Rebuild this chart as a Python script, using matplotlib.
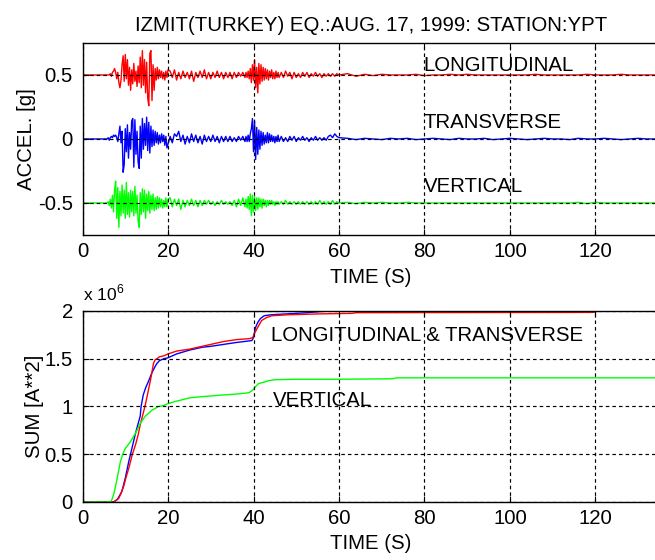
"""Izmit 1999 accelerograms (station YPT) and their running sums of squares."""

import matplotlib

matplotlib.use("Agg")
import matplotlib.pyplot as plt
import numpy as np
from matplotlib.ticker import FuncFormatter, MultipleLocator

plt.rcParams["font.family"] = ["Liberation Sans", "DejaVu Sans"]
plt.rcParams["mathtext.fontset"] = "custom"
plt.rcParams["mathtext.rm"] = "Liberation Sans"

TITLE = "IZMIT(TURKEY) EQ.:AUG. 17, 1999: STATION:YPT"
COMPONENTS = ["LONGITUDINAL", "TRANSVERSE", "VERTICAL"]
OFFSETS = [0.5, 0.0, -0.5]
COLORS = ["#ff0000", "#0000ff", "#00ff00"]

# accelerations, in 0.01 g, rows follow the sample grid below
LONG_ACC = [
    0, 0,
    0, 0, 0, 1, -1, 2, 3, 5,
    2, -3, 2, -6, -10, -4, 8, 15,
    -5, 16, -3, 12, -8, 6, -12, 4,
    -7, 9, -5, 3, -9, 7, -6, 14,
    -10, 19, -8, 12, -14, 10, -18, -24,
    17, 19, -20, 8, -12, 5, -4, 6,
    -3, 4, -2, 3, -3, 2, -4, 3,
    -2, 4,
    3, -2, 4, -4, 2, -3, 3, -2, 2,
    -3, 3, -5, 2, -2, 3, -2, 4, -3,
    2, -3, 2, -2, 3, -2, 2, -3, 2,
    -2, 2, -3, 2, -2, 2, -1, 2, -2,
    2, -2, 3, -3, 5, -6, 8, -4,
    12, -10, 6, -14, 9, -7, 8, -5,
    6, -4, 5, -3, 4, -4, 3, -2,
    4, -3, 2, -3, 3, -2, 2, -2,
    2, -2, 3, -1, 2, -3, 2,
    -2, 1, -2, 2, -1, 2, -2,
    1, -1, 2, -1, 1, -2, 1,
    -1, 1, -1, 1, -1, 1, 0,
    1, -1, 0.5, -0.5, 0.5, 0, 0, 0, 0.5, -0.5,
    0, 0, 0.5, 0, 0.5, 0, 0, 0, 0, 0,
    0, 0, 0.5, 0, 0, 0, 0, 0, 0.5, 0,
    0, 0, 0.5, 0, 0, 0, 0, 0,
]
TRANS_ACC = [
    0, 0,
    0, 1, -1, 1, 2, 1, 3, 2,
    3, 1, -2, 4, 10, -3, 6, -26,
    -20, 8, -10, 11, -15, 5, -8, 14,
    16, -22, 15, -12, 6, -18, -23, 10,
    -15, 16, -8, 12, -5, 17, -9, 13,
    -11, 10, -6, 7, -5, 6, -3, 5,
    -4, 3, -3, 4, -2, 3, -5, 2,
    -7, -4,
    2, -3, 4, 2, 6, -2, 3, -4, 2,
    -3, 4, -2, 3, -3, 2, -4, 3, -2,
    2, -2, 3, -2, 2, -3, 2, -2, 2,
    -2, 2, -2, 1, -2, 2, -1, 2, -2,
    2, -2, 3, -2, 4, 8, 16, -10,
    14, -16, 9, -12, 7, -8, 6, -5,
    5, -4, 3, -3, 5, -3, 4, -2,
    3, -2, 2, -3, 2, -2, 3, -2,
    2, -2, 1, -2, 2, -1, 2,
    -2, 1, -1, 2, -1, 1, -2,
    1, -1, 2, -1, 1, -1, 1,
    -1, 2, 3, 1, 4, 2, 1,
    0.5, -0.5, 0.5, 0, -0.5, 0.5, 0, 0.5, -0.5, 0,
    0.5, 0, -0.5, 0.5, 0, 0, 0.5, -0.5, 0, 0.5,
    0, -0.5, 0, 0.5, 0, 0, -0.5, 0.5, 0, 0,
    0.5, 0, -0.5, 0, 0.5, 0, 0, 0,
]
VERT_ACC = [
    0, 0,
    0, 1, -2, 3, -4, 6, -7, 10,
    17, -12, 12, -19, 9, -10, 14, -8,
    10, -12, 16, -9, 8, -11, 10, -7,
    9, -10, 13, -8, 6, -14, -19, 8,
    -9, 11, -7, 10, -12, 7, -6, 9,
    -8, 6, -5, 7, -6, 4, -5, 5,
    -4, 4, -3, 3, -4, 2, -3, 4,
    -3, 3,
    4, -3, 3, -2, 3, -5, 2, -3, 2,
    -2, 3, -2, 2, -3, 2, -2, 2, -1,
    2, -1, 1, -2, 1, -1, 2, -1, 1,
    -1, 1, -2, 2, -3, 3, -2, 4, -3,
    3, -4, 5, -5, 7, -10, 6, -7,
    5, -6, 4, -5, 4, -3, 3, -4,
    3, -2, 2, -3, 2, -2, 2, -1,
    2, -1, 1, -2, 1, -1, 1, -1,
    1, -1, 2, -1, 1, -1, 1,
    -1, 1, -1, 1, -1, 1, -1,
    1, -1, 1, -1, 2, -1, 1,
    -1, 1, -1, 2, -1, 1, 0,
    0.5, -0.5, 0.5, 0, 0.5, 0, 0, 0.5, 0, 0,
    0, 0, 0, 0, 0, 0, 0, 0, 0, 0,
    0, 0, 0, 0, 0, 0, 0, 0.5, -0.5, 0.5,
    0, 0, 0, 0, 0, 0, 0, 0,
]

# running sums of squared acceleration, in units of 1e6
LONG_SUM_T = [0, 7.3, 8.0, 8.5, 9.0, 9.6, 10.2, 10.8, 11.6, 12.4, 13.0, 13.5, 14.2,
              14.7, 15.5, 16.0, 16.6, 17.0, 17.4, 18.0, 19.0, 20.0, 22, 25, 28, 30,
              33, 36, 39, 39.8, 40.3, 41.0, 41.9, 43.0, 44.3, 48, 56, 63, 64, 119.5,
              120.5, 135]
LONG_SUM = [0, 0, 0.02, 0.04, 0.09, 0.16, 0.26, 0.35, 0.49, 0.60, 0.70, 0.81, 0.93,
            1.02, 1.19, 1.30, 1.45, 1.49, 1.50, 1.52, 1.53, 1.55, 1.58, 1.60, 1.63,
            1.65, 1.68, 1.70, 1.71, 1.72, 1.77, 1.83, 1.90, 1.93, 1.95, 1.96, 1.97,
            1.975, 1.982, 1.985, 1.997, 1.998]
TRANS_SUM_T = [0, 7.3, 8.2, 9.2, 10.0, 10.8, 11.6, 12.4, 13.0, 13.5, 13.7, 14.2, 14.8,
               15.4, 16.2, 17.0, 17.4, 18.0, 19.0, 20.0, 22, 25, 28, 30, 33, 36, 39.6,
               40.0, 40.4, 41.0, 41.6, 42.5, 44, 48, 52, 56, 60, 135]
TRANS_SUM = [0, 0, 0.03, 0.11, 0.25, 0.42, 0.57, 0.72, 0.82, 0.90, 1.00, 1.12, 1.20,
             1.26, 1.35, 1.42, 1.45, 1.48, 1.50, 1.51, 1.55, 1.59, 1.62, 1.63, 1.65,
             1.67, 1.69, 1.72, 1.82, 1.88, 1.92, 1.95, 1.96, 1.97, 1.98, 1.995, 2.005,
             2.01]
VERT_SUM_T = [0, 6.6, 7.0, 7.4, 7.7, 8.2, 8.85, 9.4, 10.0, 11.2, 12.4, 13.6, 14.7,
              15.5, 16.2, 17.0, 17.8, 19.0, 20.0, 21.5, 23.3, 25, 27.2, 30, 32.7, 36,
              38.2, 39.0, 39.8, 40.5, 41.2, 42.1, 43.5, 45, 50, 60, 72.5, 73.5, 135]
VERT_SUM = [0, 0, 0.04, 0.10, 0.16, 0.27, 0.42, 0.50, 0.56, 0.63, 0.72, 0.83, 0.90,
            0.93, 0.96, 0.98, 1.00, 1.01, 1.03, 1.05, 1.07, 1.09, 1.10, 1.11, 1.12,
            1.13, 1.14, 1.145, 1.17, 1.21, 1.24, 1.25, 1.27, 1.28, 1.285, 1.285, 1.29,
            1.30, 1.30]

FONT = 14.7
GRID_DASH = (0, (3.0, 2.6))


def _time_grid():
    return np.concatenate([
        [0.0, 5.5],
        np.arange(5.75, 20.01, 0.25),
        np.arange(20.5, 38.01, 0.5),
        np.arange(38.25, 46.01, 0.25),
        np.arange(46.5, 60.01, 0.5),
        np.arange(62.0, 134.01, 2.0),
        [135.0],
    ])


def _style_axes(ax):
    ax.set_xlim(0, 135)
    ax.xaxis.set_major_locator(MultipleLocator(20))
    ax.grid(True, color="black", linestyle=GRID_DASH, linewidth=0.85)
    ax.set_axisbelow(False)
    ax.tick_params(direction="in", length=4, width=0.8, labelsize=FONT,
                   top=True, right=True, pad=5)
    ax.tick_params(axis="y", pad=7)
    for spine in ax.spines.values():
        spine.set_linewidth(1.0)


fig = plt.figure(figsize=(6.55, 5.6), dpi=100)
ax_acc = fig.add_axes([0.126, 0.5804, 0.881, 0.3429])
ax_sum = fig.add_axes([0.126, 0.1036, 0.881, 0.3411])

time = _time_grid()
for acc, offset, color in zip([LONG_ACC, TRANS_ACC, VERT_ACC], OFFSETS, COLORS):
    ax_acc.plot(time, offset + 0.01 * np.asarray(acc), color=color, linewidth=1.0)
_style_axes(ax_acc)
ax_acc.set_ylim(-0.75, 0.75)
ax_acc.set_yticks([-0.5, 0, 0.5])
ax_acc.set_yticklabels(["-0.5", "0", "0.5"])
ax_acc.set_title(TITLE, fontsize=FONT, pad=8.5)
ax_acc.set_xlabel("TIME (S)", fontsize=FONT)
ax_acc.xaxis.set_label_coords(0.5, -0.172)
ax_acc.set_ylabel("ACCEL. [g]", fontsize=FONT)
ax_acc.yaxis.set_label_coords(-0.081, 0.5)
for name, base_y in zip(COMPONENTS, [0.529, 0.086, -0.416]):
    ax_acc.text(79.8, base_y, name, fontsize=FONT, va="baseline", ha="left")

sums = [(TRANS_SUM_T, TRANS_SUM, COLORS[1]), (LONG_SUM_T, LONG_SUM, COLORS[0]),
        (VERT_SUM_T, VERT_SUM, COLORS[2])]
for t, s, color in sums:
    ax_sum.plot(t, np.asarray(s) * 1e6, color=color, linewidth=1.0)
_style_axes(ax_sum)
ax_sum.set_ylim(0, 2e6)
ax_sum.yaxis.set_major_locator(MultipleLocator(0.5e6))
ax_sum.yaxis.set_major_formatter(FuncFormatter(lambda v, _: f"{v / 1e6:g}"))
ax_sum.text(0.0, 1.04, "x 10$^{6}$", transform=ax_sum.transAxes, fontsize=12.5,
            va="bottom", ha="left")
ax_sum.set_xlabel("TIME (S)", fontsize=FONT)
ax_sum.xaxis.set_label_coords(0.5, -0.17)
ax_sum.set_ylabel("SUM [A**2]", fontsize=FONT)
ax_sum.yaxis.set_label_coords(-0.067, 0.5)
ax_sum.text(44.2, 1.689e6, "LONGITUDINAL & TRANSVERSE", fontsize=FONT,
            va="baseline", ha="left")
ax_sum.text(44.5, 1.008e6, "VERTICAL", fontsize=FONT, va="baseline", ha="left")

fig.savefig("out.png", dpi=100)
plt.close(fig)
